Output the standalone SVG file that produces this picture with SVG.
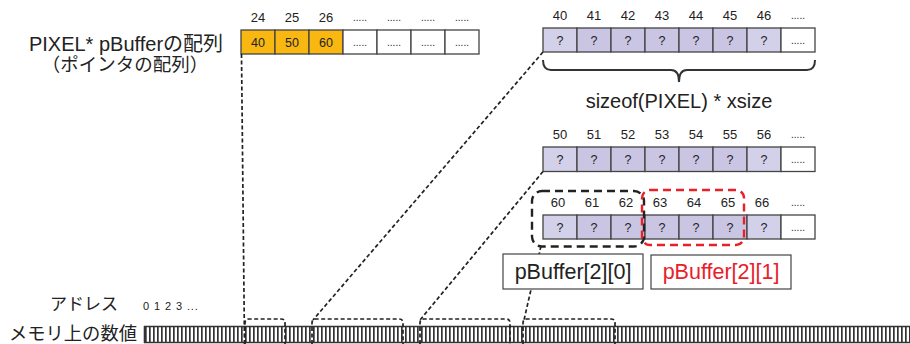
<svg xmlns="http://www.w3.org/2000/svg" width="910" height="344" viewBox="0 0 910 344">
<defs>
<style>
.t{font-family:"Liberation Sans","Noto Sans CJK JP",sans-serif;fill:#222}
.idx{font-size:13px;text-anchor:middle}
.q{font-size:12.5px;text-anchor:middle}
.dots{font-size:10px;text-anchor:middle}
.cell{stroke:#444;stroke-width:1.3}
.or{fill:#F9B712}
.pl{fill:#D3D0EA}
.pd{fill:#C9C5E3}
.wh{fill:#fff}
.dash{fill:none;stroke:#222;stroke-width:1.7;stroke-dasharray:4 2.5}
</style>
<pattern id="bars" x="144" y="0" width="4" height="344" patternUnits="userSpaceOnUse">
<rect x="0" y="0" width="4" height="344" fill="#fff"/>
<rect x="1" y="0" width="1.7" height="344" fill="#333"/>
</pattern>
</defs>

<g id="labels">
<text class="t" x="126" y="51" font-size="20" text-anchor="middle">PIXEL* pBufferの配列</text>
<text class="t" x="125" y="71" font-size="18.5" text-anchor="middle">（ポインタの配列）</text>
<text class="t" x="50" y="310" font-size="17">アドレス</text>
<text class="t" x="143" y="310" font-size="11" letter-spacing="0.9">0 1 2 3 ...</text>
<text class="t" x="9" y="340" font-size="18.3">メモリ上の数値</text>
</g>

<g id="memory">
<rect x="144" y="326.5" width="766" height="16" fill="url(#bars)"/>
<line x1="144" y1="326.5" x2="910" y2="326.5" stroke="#333" stroke-width="1.6"/>
<line x1="144" y1="342.5" x2="910" y2="342.5" stroke="#333" stroke-width="1.6"/>
<line x1="144.5" y1="326" x2="144.5" y2="343" stroke="#333" stroke-width="1.6"/>
</g>

<g id="ptr-array">
<rect class="cell or" x="241" y="30" width="34" height="24"/>
<rect class="cell or" x="275" y="30" width="34" height="24"/>
<rect class="cell or" x="309" y="30" width="34" height="24"/>
<rect class="cell wh" x="343" y="30" width="34" height="24"/>
<rect class="cell wh" x="377" y="30" width="34" height="24"/>
<rect class="cell wh" x="411" y="30" width="34" height="24"/>
<rect class="cell wh" x="445" y="30" width="34" height="24"/>
<text class="t q" x="258" y="47">40</text>
<text class="t q" x="292" y="47">50</text>
<text class="t q" x="326" y="47">60</text>
<text class="t dots" x="360" y="46">.....</text>
<text class="t dots" x="394" y="46">.....</text>
<text class="t dots" x="428" y="46">.....</text>
<text class="t dots" x="462" y="46">.....</text>
<text class="t idx" x="258" y="22">24</text>
<text class="t idx" x="292" y="22">25</text>
<text class="t idx" x="326" y="22">26</text>
<text class="t dots" x="360" y="21">.....</text>
<text class="t dots" x="394" y="21">.....</text>
<text class="t dots" x="428" y="21">.....</text>
<text class="t dots" x="462" y="21">.....</text>
</g>

<g id="row40">
<rect class="cell pl" x="543" y="28" width="34" height="24"/>
<rect class="cell pd" x="577" y="28" width="34" height="24"/>
<rect class="cell pd" x="611" y="28" width="34" height="24"/>
<rect class="cell pd" x="645" y="28" width="34" height="24"/>
<rect class="cell pd" x="679" y="28" width="34" height="24"/>
<rect class="cell pd" x="713" y="28" width="34" height="24"/>
<rect class="cell pl" x="747" y="28" width="34" height="24"/>
<rect class="cell wh" x="781" y="28" width="34" height="24"/>
<text class="t q" x="560" y="45">?</text>
<text class="t q" x="594" y="45">?</text>
<text class="t q" x="628" y="45">?</text>
<text class="t q" x="662" y="45">?</text>
<text class="t q" x="696" y="45">?</text>
<text class="t q" x="730" y="45">?</text>
<text class="t q" x="764" y="45">?</text>
<text class="t dots" x="798" y="44">.....</text>
<text class="t idx" x="560" y="20">40</text>
<text class="t idx" x="594" y="20">41</text>
<text class="t idx" x="628" y="20">42</text>
<text class="t idx" x="662" y="20">43</text>
<text class="t idx" x="696" y="20">44</text>
<text class="t idx" x="730" y="20">45</text>
<text class="t idx" x="764" y="20">46</text>
<text class="t dots" x="798" y="19">.....</text>
<path d="M543,60 Q543,70 551,70 L671,70 Q679,70 679,82 Q679,70 687,70 L807,70 Q815,70 815,60" fill="none" stroke="#333" stroke-width="2"/>
<text class="t" x="679" y="108" font-size="20" text-anchor="middle">sizeof(PIXEL) * xsize</text>
</g>

<g id="row50">
<rect class="cell pl" x="543" y="147" width="34" height="24.5"/>
<rect class="cell pd" x="577" y="147" width="34" height="24.5"/>
<rect class="cell pd" x="611" y="147" width="34" height="24.5"/>
<rect class="cell pd" x="645" y="147" width="34" height="24.5"/>
<rect class="cell pd" x="679" y="147" width="34" height="24.5"/>
<rect class="cell pd" x="713" y="147" width="34" height="24.5"/>
<rect class="cell pl" x="747" y="147" width="34" height="24.5"/>
<rect class="cell wh" x="781" y="147" width="34" height="24.5"/>
<text class="t q" x="560" y="164">?</text>
<text class="t q" x="594" y="164">?</text>
<text class="t q" x="628" y="164">?</text>
<text class="t q" x="662" y="164">?</text>
<text class="t q" x="696" y="164">?</text>
<text class="t q" x="730" y="164">?</text>
<text class="t q" x="764" y="164">?</text>
<text class="t dots" x="798" y="163">.....</text>
<text class="t idx" x="560" y="139">50</text>
<text class="t idx" x="594" y="139">51</text>
<text class="t idx" x="628" y="139">52</text>
<text class="t idx" x="662" y="139">53</text>
<text class="t idx" x="696" y="139">54</text>
<text class="t idx" x="730" y="139">55</text>
<text class="t idx" x="764" y="139">56</text>
<text class="t dots" x="798" y="138">.....</text>
</g>

<g id="row60">
<rect class="cell pl" x="543" y="215" width="34" height="24"/>
<rect class="cell pd" x="577" y="215" width="34" height="24"/>
<rect class="cell pd" x="611" y="215" width="34" height="24"/>
<rect class="cell pd" x="645" y="215" width="34" height="24"/>
<rect class="cell pd" x="679" y="215" width="34" height="24"/>
<rect class="cell pd" x="713" y="215" width="34" height="24"/>
<rect class="cell pl" x="747" y="215" width="34" height="24"/>
<rect class="cell wh" x="781" y="215" width="34" height="24"/>
<text class="t q" x="560" y="232">?</text>
<text class="t q" x="594" y="232">?</text>
<text class="t q" x="628" y="232">?</text>
<text class="t q" x="662" y="232">?</text>
<text class="t q" x="696" y="232">?</text>
<text class="t q" x="730" y="232">?</text>
<text class="t q" x="764" y="232">?</text>
<text class="t dots" x="798" y="231">.....</text>
<text class="t idx" x="558" y="207">60</text>
<text class="t idx" x="592" y="207">61</text>
<text class="t idx" x="626" y="207">62</text>
<text class="t idx" x="660" y="207">63</text>
<text class="t idx" x="694" y="207">64</text>
<text class="t idx" x="728" y="207">65</text>
<text class="t idx" x="762" y="207">66</text>
<text class="t dots" x="798" y="206">.....</text>
</g>

<g id="connectors">
<line class="dash" x1="241.5" y1="54" x2="244.5" y2="344"/>
<line class="dash" x1="543" y1="52" x2="313" y2="320"/>
<line class="dash" x1="543" y1="171.5" x2="420" y2="320"/>
<line class="dash" x1="541" y1="246" x2="524" y2="320"/>
<path class="dash" d="M245,344 L245,323 Q245,319 249,319 L281,319 Q285,319 285,323 L285,344"/>
<path class="dash" d="M312,344 L312,323 Q312,319 316,319 L399,319 Q403,319 403,323 L403,344"/>
<path class="dash" d="M420,344 L420,323 Q420,319 424,319 L506,319 Q510,319 510,323 L510,344"/>
<path class="dash" d="M523,344 L523,323 Q523,319 527,319 L611,319 Q615,319 615,323 L615,344"/>
</g>

<g id="sel0">
<rect x="532" y="191" width="112" height="55.5" rx="10" fill="none" stroke="#222" stroke-width="2.4" stroke-dasharray="8 5"/>
<rect x="503" y="254" width="140" height="35" fill="#fff" stroke="#444" stroke-width="1.2"/>
<text class="t" x="573" y="279" font-size="21.5" text-anchor="middle">pBuffer[2][0]</text>
</g>

<g id="sel1">
<rect x="642" y="190" width="102" height="55" rx="8" fill="none" stroke="#E8202A" stroke-width="2.4" stroke-dasharray="8 5"/>
<rect x="651" y="255" width="140" height="34" fill="#fff" stroke="#444" stroke-width="1.2"/>
<text x="721" y="279" font-size="21.5" text-anchor="middle" font-family="Liberation Sans, sans-serif" fill="#E8202A">pBuffer[2][1]</text>
</g>
</svg>
